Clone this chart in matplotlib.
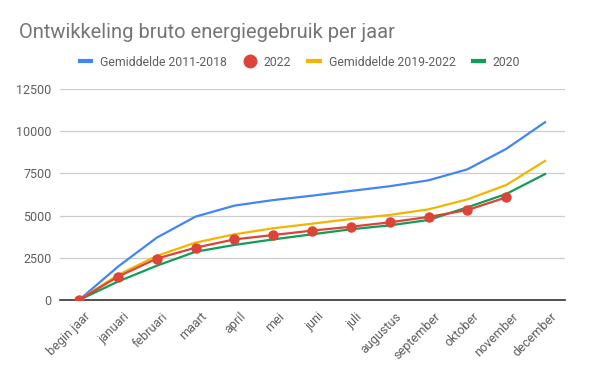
import matplotlib
matplotlib.use("Agg")
import matplotlib.pyplot as plt
import matplotlib.transforms as mtransforms
from matplotlib.lines import Line2D

months = ["begin jaar", "januari", "februari", "maart", "april", "mei", "juni",
          "juli", "augustus", "september", "oktober", "november", "december"]

gem_2011_2018 = [0, 1970, 3690, 4940, 5590, 5920, 6180, 6460, 6740, 7090, 7740, 8950, 10530]
gem_2019_2022 = [0, 1480, 2610, 3400, 3890, 4250, 4520, 4800, 5040, 5370, 5960, 6810, 8240]
y2020 = [0, 1090, 2030, 2860, 3260, 3590, 3890, 4190, 4420, 4740, 5490, 6280, 7460]
y2022 = [0, 1380, 2450, 3100, 3590, 3850, 4110, 4340, 4600, 4920, 5330, 6080]

BLUE = "#4285F4"
RED = "#DB4437"
YELLOW = "#F4B400"
GREEN = "#0F9D58"
LABEL = "#5f5f5f"

plt.rcParams["font.family"] = ["Roboto", "DejaVu Sans"]

fig = plt.figure(figsize=(6, 3.71), dpi=100)
ax = fig.add_axes([60 / 600, 1 - 300 / 371, 505 / 600, 211 / 371])

x = list(range(len(months)))
ax.plot(x, gem_2011_2018, color=BLUE, lw=1.6, zorder=3)
ax.plot(x, gem_2019_2022, color=YELLOW, lw=1.6, zorder=3)
ax.plot(x, y2020, color=GREEN, lw=1.6, zorder=3)
ax.plot(x[:len(y2022)], y2022, color=RED, lw=1.6, marker="o", ms=6.5, zorder=4)

ax.set_xlim(-0.49, 12.515)
ax.set_ylim(0, 12500)
ax.set_yticks([0, 2500, 5000, 7500, 10000, 12500])
ax.set_xticks(x)
ax.set_xticklabels(months, rotation=45, ha="right", rotation_mode="anchor")
ax.tick_params(axis="both", length=0, labelsize=9, colors=LABEL)
ax.tick_params(axis="y", pad=6)
ax.tick_params(axis="x", pad=5)
# nudge rotated labels a bit right/down like the original
shift = mtransforms.ScaledTranslation(5 / 100, -3 / 100, fig.dpi_scale_trans)
for lbl in ax.get_xticklabels():
    lbl.set_transform(lbl.get_transform() + shift)
ax.grid(axis="y", color="#cccccc", lw=0.9)
ax.set_axisbelow(True)
for s in ["top", "right", "left"]:
    ax.spines[s].set_visible(False)
ax.spines["bottom"].set_color("#333333")
ax.spines["bottom"].set_linewidth(1.2)
ax.spines["bottom"].set_zorder(2)

fig.text(19 / 600, 1 - 32 / 371, "Ontwikkeling bruto energiegebruik per jaar",
         fontsize=14.5, color="#757575", va="center", ha="left")

handles = [
    Line2D([], [], color=BLUE, lw=3),
    Line2D([], [], color=RED, lw=0, marker="o", ms=9),
    Line2D([], [], color=YELLOW, lw=3),
    Line2D([], [], color=GREEN, lw=3),
]
labels = ["Gemiddelde 2011-2018", "2022", "Gemiddelde 2019-2022", "2020"]
leg = fig.legend(handles, labels, loc="center", bbox_to_anchor=(300 / 600, 1 - 62 / 371),
                 ncol=4, frameon=False, fontsize=8.8, handlelength=0.95, handletextpad=0.7,
                 columnspacing=1.4)
for t in leg.get_texts():
    t.set_color(LABEL)

fig.savefig("out.png", dpi=100)
